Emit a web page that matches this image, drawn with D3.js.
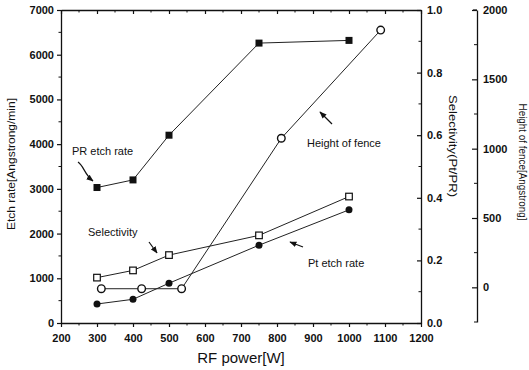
<!DOCTYPE html>
<html><head><meta charset="utf-8">
<script src="https://cdn.jsdelivr.net/npm/d3@7"></script>
<style>
body{margin:0;background:#fff;}
svg{display:block;font-family:Arial,"Liberation Sans",sans-serif;}
</style></head><body>
<svg id="c" width="529" height="370"></svg>
<script>
// ---- data ----
const rfPower = [300, 400, 500, 750, 1000];
const prEtchRate = [3030, 3200, 4200, 6260, 6320];
const ptEtchRate = [425, 530, 890, 1740, 2530];
const selectivity = [0.145, 0.168, 0.217, 0.28, 0.404];
const fencePower = [312, 424, 535, 812, 1088];
const fenceHeight = [-10, -10, -10, 1075, 1855];

const xTicks = [200,300,400,500,600,700,800,900,1000,1100,1200];
const yTicks = [0,1000,2000,3000,4000,5000,6000,7000];
const selTicks = [0.0,0.2,0.4,0.6,0.8,1.0];
const fenceTicks = [0,500,1000,1500,2000];

const svg = d3.select("#c");
const ink = "#111";

const x = d3.scaleLinear().domain([200,1200]).range([61,421]);
const y = d3.scaleLinear().domain([0,7000]).range([323,10]);
const ySel = d3.scaleLinear().domain([0,1]).range([323,10]);
const yFence = d3.scaleLinear().domain([-250,2000]).range([322,10]);

function minorTicks(g, scale, vals, orient, len){
  vals.forEach(v=>{
    const p = scale(v);
    if(orient==="bottom") g.append("line").attr("x1",p).attr("x2",p).attr("y1",0).attr("y2",len);
    if(orient==="top") g.append("line").attr("x1",p).attr("x2",p).attr("y1",0).attr("y2",len);
    if(orient==="left") g.append("line").attr("y1",p).attr("y2",p).attr("x1",0).attr("x2",-len);
  });
  g.selectAll("line").attr("stroke",ink).attr("stroke-width",1);
}
function styleAxis(g){
  g.selectAll(".domain").attr("stroke",ink).attr("stroke-width",1.3);
  g.selectAll(".tick line").attr("stroke",ink).attr("stroke-width",1.2);
  g.selectAll(".tick text").attr("fill",ink).attr("font-size","11px").attr("font-weight","bold").attr("font-family","Arial, 'Liberation Sans', sans-serif");
}

// bottom axis
const gx = svg.append("g").attr("transform","translate(0,323)")
  .call(d3.axisBottom(x).tickValues(xTicks).tickSize(4).tickSizeOuter(0).tickPadding(7).tickFormat(d3.format("d")));
styleAxis(gx);
minorTicks(gx.append("g"), x, d3.range(250,1200,100), "bottom", 2.5);

// top frame line
const gt = svg.append("g").attr("transform","translate(0,10)")
  .call(d3.axisTop(x).tickValues(xTicks).tickSize(-4).tickSizeOuter(0).tickFormat(""));
styleAxis(gt);
minorTicks(gt.append("g"), x, d3.range(250,1200,100), "top", 2.5);

// left axis
const gy = svg.append("g").attr("transform","translate(61,0)")
  .call(d3.axisLeft(y).tickValues(yTicks).tickSize(4).tickSizeOuter(0).tickPadding(3).tickFormat(d3.format("d")));
styleAxis(gy);
minorTicks(gy.append("g"), y, d3.range(500,7000,1000), "left", 2.5);

// right selectivity axis
const gs = svg.append("g").attr("transform","translate(421,0)")
  .call(d3.axisRight(ySel).tickValues(selTicks).tickSize(-4).tickSizeOuter(0).tickPadding(3).tickFormat(d3.format(".1f")));
styleAxis(gs);
gs.selectAll(".tick text").attr("x",6);
minorTicks(gs.append("g"), ySel, [0.1,0.3,0.5,0.7,0.9], "left", 2.5);

// fence axis
const gf = svg.append("g").attr("transform","translate(477,0)")
  .call(d3.axisRight(yFence).tickValues(fenceTicks).tickSize(-5).tickSizeOuter(0).tickPadding(3).tickFormat(d3.format("d")));
styleAxis(gf);
gf.selectAll(".tick text").attr("x",6);
minorTicks(gf.append("g"), yFence, [-250,250,750,1250,1750], "left", 3);
gf.append("line").attr("x1",0).attr("x2",-4).attr("y1",yFence(2000)).attr("y2",yFence(2000)).attr("stroke",ink).attr("stroke-width",1.2);

// axis titles
svg.append("text").attr("transform","translate(15,164) rotate(-90)").attr("text-anchor","middle")
  .attr("font-size","11px").attr("fill",ink).attr("textLength",132).attr("lengthAdjust","spacingAndGlyphs")
  .text("Etch rate[Angstrong/min]");
svg.append("text").attr("transform","translate(449,146) rotate(90)").attr("text-anchor","middle")
  .attr("font-size","11px").attr("fill",ink).attr("textLength",102).attr("lengthAdjust","spacingAndGlyphs")
  .text("Selectivity(Pt/PR)");
svg.append("text").attr("transform","translate(519,162) rotate(90)").attr("text-anchor","middle")
  .attr("font-size","10px").attr("fill",ink).attr("textLength",117).attr("lengthAdjust","spacingAndGlyphs")
  .text("Height of fence[Angstrong]");
svg.append("text").attr("x",241).attr("y",363).attr("text-anchor","middle")
  .attr("font-size","15px").attr("fill",ink).text("RF power[W]");

// lines
const lineStyle = s => s.attr("fill","none").attr("stroke","#222").attr("stroke-width",1);
const prPts = rfPower.map((p,i)=>[x(p), y(prEtchRate[i])]);
const ptPts = rfPower.map((p,i)=>[x(p), y(ptEtchRate[i])]);
const selPts = rfPower.map((p,i)=>[x(p), ySel(selectivity[i])]);
const fencePts = fencePower.map((p,i)=>[x(p), yFence(fenceHeight[i])]);
const line = d3.line();
[prPts, ptPts, selPts, fencePts].forEach(pts => lineStyle(svg.append("path").attr("d", line(pts))));

// markers
svg.append("g").selectAll("rect").data(prPts).join("rect")
  .attr("x",d=>d[0]-3.5).attr("y",d=>d[1]-3.5).attr("width",7).attr("height",7).attr("fill",ink);
svg.append("g").selectAll("circle").data(ptPts).join("circle")
  .attr("cx",d=>d[0]).attr("cy",d=>d[1]).attr("r",3.5).attr("fill",ink);
svg.append("g").selectAll("rect").data(selPts).join("rect")
  .attr("x",d=>d[0]-3.3).attr("y",d=>d[1]-3.3).attr("width",6.6).attr("height",6.6)
  .attr("fill","#fff").attr("stroke",ink).attr("stroke-width",1.2);
svg.append("g").selectAll("circle").data(fencePts).join("circle")
  .attr("cx",d=>d[0]).attr("cy",d=>d[1]).attr("r",3.8)
  .attr("fill","#fff").attr("stroke",ink).attr("stroke-width",1.4);

// annotations
const ann = [["PR etch rate",72,155],["Height of fence",307,147],["Selectivity",88,236],["Pt etch rate",308,267]];
ann.forEach(a => svg.append("text").attr("x",a[1]).attr("y",a[2]).attr("font-size","11px").attr("fill",ink).text(a[0]));

svg.append("defs").append("marker").attr("id","ah").attr("viewBox","0 0 10 10").attr("refX",9).attr("refY",5)
  .attr("markerWidth",6).attr("markerHeight",6).attr("orient","auto")
  .append("path").attr("d","M0,1 L10,5 L0,9 Z").attr("fill",ink);
const arrows = ["M78,162 C84,166 84,174 93,181","M332,124 L320,112","M149,242 L157,253","M303,247 L290,242"];
arrows.forEach(d => svg.append("path").attr("d",d).attr("fill","none").attr("stroke",ink).attr("stroke-width",1.2).attr("marker-end","url(#ah)"));
</script>
</body></html>
